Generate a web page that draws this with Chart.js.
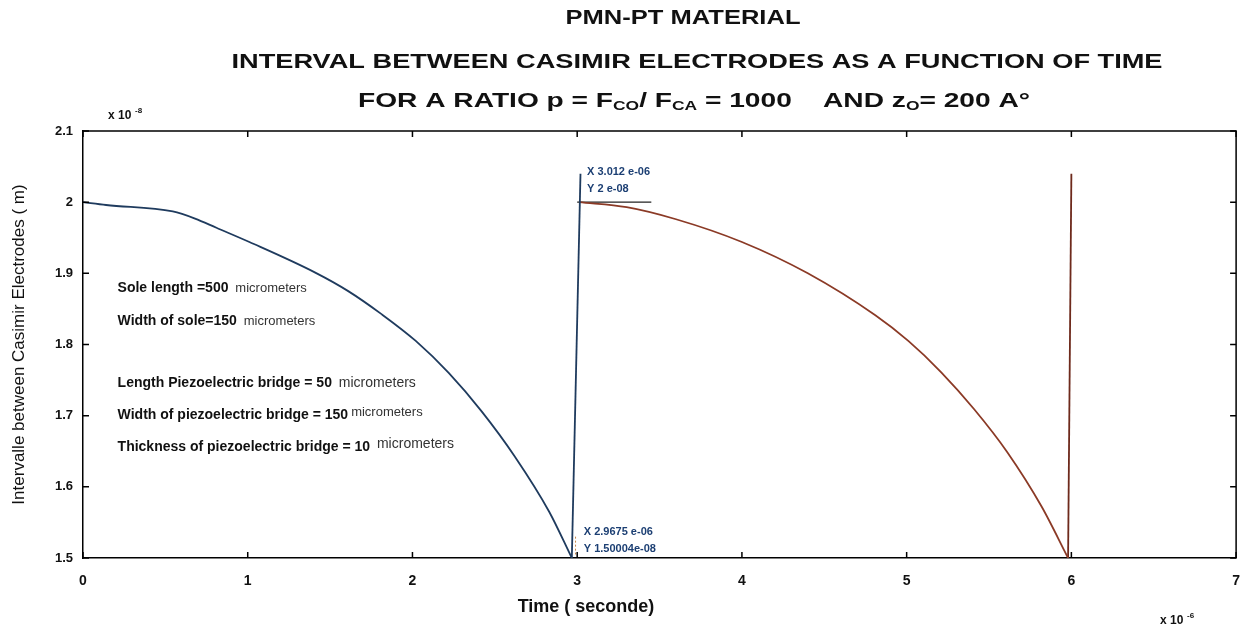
<!DOCTYPE html>
<html>
<head>
<meta charset="utf-8">
<title>PMN-PT material - Casimir electrodes interval</title>
<script src="https://cdn.jsdelivr.net/npm/chart.js@4.4.1/dist/chart.umd.min.js"></script>
<style>
    html, body { margin: 0; padding: 0; background: #fff; }
    #wrap { width: 1255px; height: 628px; position: relative; }
</style>
</head>
<body>
<div id="wrap"><canvas id="gapChart" width="1255" height="628"></canvas></div>
<script>
// Time in units of 1e-6 s, interval in units of 1e-8 m (as on the axes)
const blueTime = [0, 0.14, 0.545, 0.68, 0.81, 1.01, 1.41, 1.61, 1.81, 2.02, 2.22, 2.42, 2.62, 2.83, 2.9675];
const blueGap  = [2.0, 1.996, 1.987, 1.977, 1.964, 1.944, 1.901, 1.875, 1.843, 1.805, 1.760, 1.706, 1.643, 1.565, 1.5];
const blueRiseTime = [2.9675, 3.02];
const blueRiseGap  = [1.5, 2.04];

const redTime = [3.012, 3.30, 3.60, 4.00, 4.40, 4.81, 5.01, 5.21, 5.41, 5.61, 5.82, 5.98];
const redGap  = [2.0, 1.993, 1.976, 1.944, 1.900, 1.841, 1.805, 1.761, 1.709, 1.649, 1.572, 1.5];
const redRiseTime = [5.98, 6.0];
const redRiseGap  = [1.5, 2.04];

const tipLineTime = [3.0, 3.45];
const tipLineGap  = [2.0, 2.0];

const xTicks = [0, 1, 2, 3, 4, 5, 6, 7];
const yTicks = [1.5, 1.6, 1.7, 1.8, 1.9, 2.0, 2.1];

const titleLines = [
    'PMN-PT MATERIAL',
    'INTERVAL BETWEEN CASIMIR ELECTRODES AS A FUNCTION OF TIME'
];
// third title line, [text, isSubscript]
const titleRatio = [
    ['FOR A RATIO p = F', false], ['CO', true], ['/ F', false], ['CA', true],
    [' = 1000    AND z', false], ['O', true], ['= 200 A\u00B0', false]
];
// [main text, unit text]
const notes = [
    ['Sole length =500 ', 'micrometers'],
    ['Width of sole=150 ', 'micrometers'],
    ['Length Piezoelectric bridge = 50 ', 'micrometers'],
    ['Width of piezoelectric bridge = 150', 'micrometers'],
    ['Thickness of piezoelectric bridge = 10 ', 'micrometers']
];
const tipTop = ['X 3.012 e-06', 'Y 2 e-08'];
const tipBottom = ['X 2.9675 e-06', 'Y 1.50004e-08'];
const xTitle = 'Time ( seconde)';
const yTitle = 'Intervalle between Casimir Electrodes ( m)';

function toPoints(xs, ys) {
    return xs.map((x, i) => ({ x: x, y: ys[i] }));
}

const NAVY = '#1f3b5e';
const RUST = '#8b3a26';
const TIP_BLUE = '#1c3f73';
const FAM = '"Liberation Sans", Arial, sans-serif';

// draw text stretched horizontally so it spans the given width (centered at cx)
function fitText(ctx, text, cx, cy, width, font) {
    ctx.font = font;
    const w = ctx.measureText(text).width;
    ctx.save();
    ctx.translate(cx - width / 2, cy);
    ctx.scale(width / w, 1);
    ctx.textAlign = 'left';
    ctx.fillText(text, 0, 0);
    ctx.restore();
}

const boxPlugin = {
    id: 'boxAndText',
    afterDraw(chart) {
        const ctx = chart.ctx;
        const a = chart.chartArea;
        const xs = chart.scales.x;
        const ys = chart.scales.y;
        ctx.save();

        // box + inward ticks (matlab style)
        ctx.strokeStyle = '#000';
        ctx.lineWidth = 1.5;
        ctx.beginPath();
        ctx.moveTo(a.left, a.top); ctx.lineTo(a.right, a.top);
        ctx.lineTo(a.right, a.bottom);
        ctx.stroke();
        ctx.beginPath();
        xTicks.forEach(t => {
            const px = xs.getPixelForValue(t);
            ctx.moveTo(px, a.bottom); ctx.lineTo(px, a.bottom - 6);
            ctx.moveTo(px, a.top); ctx.lineTo(px, a.top + 6);
        });
        yTicks.forEach(t => {
            const py = ys.getPixelForValue(t);
            ctx.moveTo(a.left, py); ctx.lineTo(a.left + 6, py);
            ctx.moveTo(a.right, py); ctx.lineTo(a.right - 6, py);
        });
        ctx.stroke();

        // titles
        ctx.fillStyle = '#111';
        ctx.textBaseline = 'middle';
        fitText(ctx, titleLines[0], 683, 18, 235, 'bold 20px ' + FAM);
        fitText(ctx, titleLines[1], 697, 62, 931, 'bold 21px ' + FAM);

        const bigFont = 'bold 21px ' + FAM;
        const subFont = 'bold 13px ' + FAM;
        let total = 0;
        titleRatio.forEach(r => { ctx.font = r[1] ? subFont : bigFont; total += ctx.measureText(r[0]).width; });
        const k = 672 / total;
        ctx.save();
        ctx.translate(694 - 336, 0);
        ctx.scale(k, 1);
        ctx.textAlign = 'left';
        let cx = 0;
        titleRatio.forEach(r => {
            ctx.font = r[1] ? subFont : bigFont;
            ctx.fillText(r[0], cx, r[1] ? 106 : 101);
            cx += ctx.measureText(r[0]).width;
        });
        ctx.restore();

        // exponent labels
        ctx.textAlign = 'left';
        ctx.font = 'bold 12px ' + FAM;
        ctx.fillText('x 10', 108, 116);
        ctx.font = 'bold 8px ' + FAM;
        ctx.fillText('-8', 135, 111);
        ctx.font = 'bold 12px ' + FAM;
        ctx.fillText('x 10', 1160, 621);
        ctx.font = 'bold 8px ' + FAM;
        ctx.fillText('-6', 1187, 616);

        // x axis title
        ctx.textAlign = 'center';
        ctx.font = 'bold 18px ' + FAM;
        ctx.fillText(xTitle, 586, 607);
        ctx.textAlign = 'left';

        // parameter notes inside the axes
        const noteX = xs.getPixelForValue(0.21);
        const noteY = [1.879, 1.833, 1.746, 1.701, 1.656];
        notes.forEach((n, i) => {
            const py = ys.getPixelForValue(noteY[i]);
            ctx.fillStyle = '#111';
            ctx.font = 'bold 14px ' + FAM;
            ctx.fillText(n[0], noteX, py);
            const w = ctx.measureText(n[0]).width;
            ctx.fillStyle = '#333';
            ctx.font = (i === 2 || i === 4 ? '14px ' : '13px ') + FAM;
            ctx.fillText(n[1], noteX + w + 3, py - (i >= 3 ? 3 : 0));
        });

        // data tips
        ctx.fillStyle = TIP_BLUE;
        ctx.font = 'bold 11px ' + FAM;
        const tx = xs.getPixelForValue(3.06);
        ctx.fillText(tipTop[0], tx, ys.getPixelForValue(2.042));
        ctx.fillText(tipTop[1], tx, ys.getPixelForValue(2.018));
        const bx = xs.getPixelForValue(3.04);
        ctx.fillText(tipBottom[0], bx, ys.getPixelForValue(1.536));
        ctx.fillText(tipBottom[1], bx, ys.getPixelForValue(1.512));
        ctx.strokeStyle = '#c7884a';
        ctx.lineWidth = 1;
        ctx.setLineDash([2, 2]);
        ctx.beginPath();
        const dx = xs.getPixelForValue(2.99);
        ctx.moveTo(dx, ys.getPixelForValue(1.53));
        ctx.lineTo(dx, ys.getPixelForValue(1.505));
        ctx.stroke();
        ctx.restore();
    }
};

new Chart(document.getElementById('gapChart').getContext('2d'), {
    type: 'scatter',
    data: {
        datasets: [
            { data: toPoints(blueTime, blueGap), borderColor: NAVY, borderWidth: 1.8, showLine: true, pointRadius: 0, cubicInterpolationMode: 'monotone' },
            { data: toPoints(blueRiseTime, blueRiseGap), borderColor: NAVY, borderWidth: 1.8, showLine: true, pointRadius: 0 },
            { data: toPoints(redTime, redGap), borderColor: RUST, borderWidth: 1.8, showLine: true, pointRadius: 0, cubicInterpolationMode: 'monotone' },
            { data: toPoints(redRiseTime, redRiseGap), borderColor: '#6e2a1c', borderWidth: 1.8, showLine: true, pointRadius: 0 },
            { data: toPoints(tipLineTime, tipLineGap), borderColor: '#222', borderWidth: 1.2, showLine: true, pointRadius: 0 }
        ]
    },
    options: {
        responsive: false,
        animation: false,
        events: [],
        layout: { padding: { top: 131, right: 15, left: 0, bottom: 0 } },
        plugins: { legend: { display: false }, tooltip: { enabled: false } },
        scales: {
            x: {
                type: 'linear', min: 0, max: 7,
                afterFit: s => { s.height = 70; },
                afterBuildTicks: s => { s.ticks = xTicks.map(v => ({ value: v })); },
                grid: { display: false, drawTicks: false },
                border: { display: true, color: '#000', width: 1.5 },
                ticks: { color: '#111', padding: 15, font: { family: FAM, size: 14, weight: 'bold' } }
            },
            y: {
                type: 'linear', min: 1.5, max: 2.1,
                afterFit: s => { s.width = 83; },
                afterBuildTicks: s => { s.ticks = yTicks.map(v => ({ value: v })); },
                grid: { display: false, drawTicks: false },
                border: { display: true, color: '#000', width: 1.5 },
                ticks: { color: '#111', padding: 10, font: { family: FAM, size: 13, weight: 'bold' }, callback: v => String(Number(v.toFixed(1))) },
                title: { display: true, text: yTitle, color: '#111', padding: 9, font: { family: FAM, size: 17 } }
            }
        }
    },
    plugins: [boxPlugin]
});
</script>
</body>
</html>
